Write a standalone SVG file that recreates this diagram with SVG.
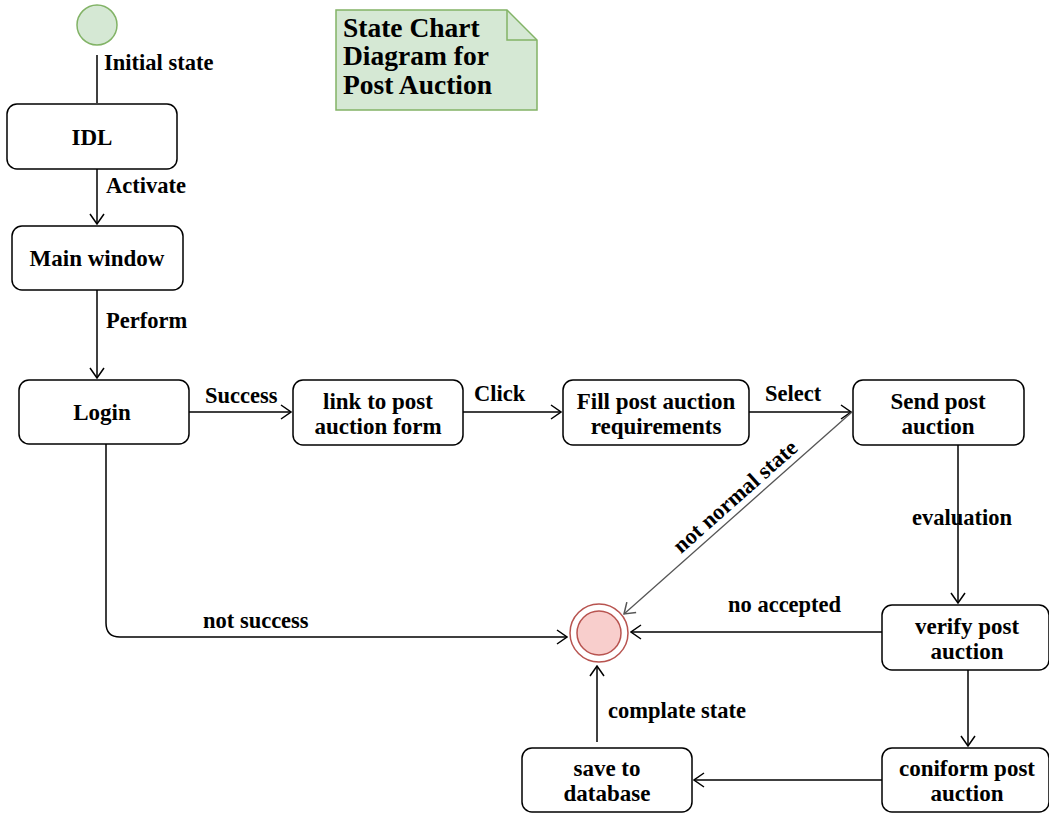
<svg xmlns="http://www.w3.org/2000/svg" width="1049" height="814" viewBox="0 0 1049 814">
<style>
.node{fill:#fff;stroke:#000;stroke-width:1.5}
.t{font-family:"Liberation Serif",serif;font-weight:bold;font-size:23px;fill:#000;text-anchor:middle}
.l{font-family:"Liberation Serif",serif;font-weight:bold;font-size:22.5px;fill:#000}
.ti{font-family:"Liberation Serif",serif;font-weight:bold;font-size:27.5px;fill:#000}
.c{fill:none;stroke:#000;stroke-width:1.5}
</style>
<defs>
<marker id="arr" viewBox="0 0 12 16" refX="11" refY="8" markerWidth="12" markerHeight="16" markerUnits="userSpaceOnUse" orient="auto">
<path d="M1,1 L11,8 L1,15" fill="none" stroke="#000" stroke-width="1.5"/>
</marker>
<marker id="arrg" viewBox="0 0 12 16" refX="11" refY="8" markerWidth="12" markerHeight="16" markerUnits="userSpaceOnUse" orient="auto">
<path d="M1,1 L11,8 L1,15" fill="none" stroke="#555" stroke-width="1.5"/>
</marker>
</defs>
<rect width="1049" height="814" fill="#fff"/>
<g id="connectors">
<path class="c" d="M97,55 V103"/>
<path class="c" d="M97,169 V224" marker-end="url(#arr)"/>
<path class="c" d="M97,290 V378" marker-end="url(#arr)"/>
<path class="c" d="M189,412 H291" marker-end="url(#arr)"/>
<path class="c" d="M463,412 H561" marker-end="url(#arr)"/>
<path class="c" d="M749,412 H851" marker-end="url(#arr)"/>
<path d="M852,412 L624,614" fill="none" stroke="#555" stroke-width="1.3" marker-end="url(#arrg)"/>
<path class="c" d="M958,445 V603" marker-end="url(#arr)"/>
<path class="c" d="M882,632 H631" marker-end="url(#arr)"/>
<path class="c" d="M106,444 V623 Q106,637 120,637 H567" marker-end="url(#arr)"/>
<path class="c" d="M968,670 V746" marker-end="url(#arr)"/>
<path class="c" d="M882,780 H694" marker-end="url(#arr)"/>
<path class="c" d="M597,742 V666" marker-end="url(#arr)"/>
<text class="l" x="104" y="70">Initial state</text>
<text class="l" x="106" y="193">Activate</text>
<text class="l" x="106" y="328">Perform</text>
<text class="l" x="205" y="403">Success</text>
<text class="l" x="474" y="401">Click</text>
<text class="l" x="765" y="401">Select</text>
<text class="l" x="912" y="525">evaluation</text>
<text class="l" x="728" y="612">no accepted</text>
<text class="l" x="203" y="628">not success</text>
<text class="l" x="608" y="718">complate state</text>
<text class="l" x="0" y="0" text-anchor="middle" transform="translate(740,502) rotate(-41.5)">not normal state</text>
</g>
<g id="note">
<path d="M336,10 H507 L537,40 V110 H336 Z" fill="#d5e8d4" stroke="#82b366" stroke-width="1.5"/>
<path d="M507,10 V40 H537" fill="none" stroke="#82b366" stroke-width="1.5"/>
<text class="ti" x="343" y="37">State Chart</text>
<text class="ti" x="343" y="65">Diagram for</text>
<text class="ti" x="343" y="94">Post Auction</text>
</g>
<g id="initial"><circle cx="97" cy="25" r="20" fill="#d5e8d4" stroke="#82b366" stroke-width="1.5"/></g>
<g id="idl"><rect class="node" x="7" y="104" width="170" height="65" rx="10"/><text class="t" x="92" y="145">IDL</text></g>
<g id="mainwindow"><rect class="node" x="12" y="226" width="171" height="64" rx="10"/><text class="t" x="97" y="266">Main window</text></g>
<g id="login"><rect class="node" x="19" y="380" width="170" height="64" rx="10"/><text class="t" x="102" y="420">Login</text></g>
<g id="link"><rect class="node" x="293" y="380" width="170" height="65" rx="10"/><text class="t" x="378" y="409">link to post</text><text class="t" x="378" y="434">auction form</text></g>
<g id="fill"><rect class="node" x="563" y="380" width="186" height="65" rx="10"/><text class="t" x="656" y="409">Fill post auction</text><text class="t" x="656" y="434">requirements</text></g>
<g id="send"><rect class="node" x="853" y="380" width="171" height="65" rx="10"/><text class="t" x="938" y="409">Send post</text><text class="t" x="938" y="434">auction</text></g>
<g id="verify"><rect class="node" x="882" y="605" width="167" height="65" rx="10"/><text class="t" x="967" y="634">verify post</text><text class="t" x="967" y="659">auction</text></g>
<g id="coniform"><rect class="node" x="882" y="748" width="167" height="64" rx="10"/><text class="t" x="967" y="776">coniform post</text><text class="t" x="967" y="801">auction</text></g>
<g id="save"><rect class="node" x="522" y="748" width="170" height="64" rx="10"/><text class="t" x="607" y="776">save to</text><text class="t" x="607" y="801">database</text></g>
<g id="final"><circle cx="599" cy="633" r="29" fill="#fff" stroke="#b85450" stroke-width="1.5"/><circle cx="599" cy="633" r="22" fill="#f8cecc" stroke="#b85450" stroke-width="1.5"/></g>
</svg>
